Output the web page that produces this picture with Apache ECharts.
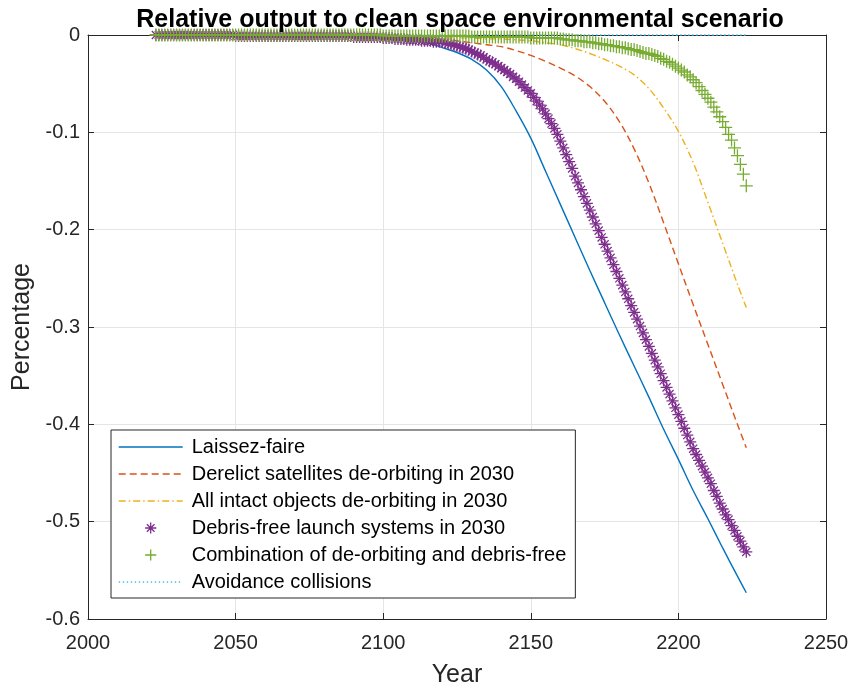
<!DOCTYPE html>
<html>
<head>
<meta charset="utf-8">
<script src="https://cdn.jsdelivr.net/npm/echarts@6/dist/echarts.min.js"></script>
<style>
  html, body { margin: 0; padding: 0; background: #ffffff; }
  #chart { width: 856px; height: 691px; }
</style>
</head>
<body>
<div id="chart"></div>
<script>
// ---- data -------------------------------------------------------------
const xTicks = [2000, 2050, 2100, 2150, 2200, 2250];
const yTicks = [-0.6, -0.5, -0.4, -0.3, -0.2, -0.1, 0];

const names = [
  'Laissez-faire',
  'Derelict satellites de-orbiting in 2030',
  'All intact objects de-orbiting in 2030',
  'Debris-free launch systems in 2030',
  'Combination of de-orbiting and debris-free',
  'Avoidance collisions'
];

// knot years for the plain line scenarios
const curveYears = [2023, 2050, 2075, 2100, 2105, 2110, 2115, 2120, 2125, 2130,
  2135, 2140, 2145, 2150, 2155, 2160, 2165, 2170, 2175, 2180, 2185, 2190, 2195,
  2200, 2205, 2210, 2215, 2220, 2223];

const laissezFaire = [0, 0, -0.001, -0.001, -0.002, -0.004, -0.008, -0.013, -0.018, -0.025,
  -0.036, -0.053, -0.078, -0.106, -0.140, -0.174, -0.208, -0.242, -0.275, -0.308, -0.340, -0.372, -0.405,
  -0.436, -0.468, -0.497, -0.527, -0.556, -0.573];

const derelictDeorbit = [0, 0, 0, -0.001, -0.002, -0.003, -0.004, -0.005, -0.006, -0.008,
  -0.010, -0.012, -0.016, -0.021, -0.027, -0.034, -0.042, -0.053, -0.068, -0.089, -0.117, -0.152, -0.193,
  -0.235, -0.277, -0.318, -0.359, -0.400, -0.424];

const intactDeorbit = [0, 0, 0, 0, -0.001, -0.001, -0.002, -0.002, -0.003, -0.003,
  -0.004, -0.004, -0.005, -0.006, -0.008, -0.010, -0.014, -0.019, -0.025, -0.032, -0.041, -0.055, -0.075,
  -0.099, -0.131, -0.172, -0.214, -0.256, -0.280];

const avoidanceYears = [2023, 2223];
const avoidance = [0, 0];

// yearly values, 2023 .. 2223, for the marker scenarios
const firstMarkerYear = 2023;

const debrisFree = [
  0, 0, 0, 0, 0, 0, 0,                                                        // 2023-2029
  0, 0, 0, 0, 0, 0, 0, 0, 0, 0,                                               // 2030s
  0, 0, 0, 0, 0, 0, 0, 0, 0, 0,                                               // 2040s
  -0.001, -0.001, -0.001, -0.001, -0.001, -0.001, -0.001, -0.001, -0.001, -0.001, // 2050s
  -0.001, -0.001, -0.001, -0.001, -0.001, -0.001, -0.001, -0.001, -0.001, -0.001, // 2060s
  -0.001, -0.001, -0.001, -0.001, -0.001, -0.001, -0.001, -0.001, -0.001, -0.001, // 2070s
  -0.001, -0.001, -0.001, -0.001, -0.001, -0.001, -0.001, -0.001, -0.001, -0.001, // 2080s
  -0.002, -0.002, -0.002, -0.002, -0.002, -0.002, -0.002, -0.002, -0.002, -0.002, // 2090s
  -0.003, -0.003, -0.003, -0.003, -0.004, -0.004, -0.004, -0.004, -0.005, -0.005, // 2100s
  -0.005, -0.005, -0.005, -0.006, -0.006, -0.006, -0.006, -0.007, -0.007, -0.007, // 2110s
  -0.007, -0.008, -0.009, -0.009, -0.010, -0.011, -0.012, -0.013, -0.014, -0.015, // 2120s
  -0.017, -0.018, -0.020, -0.021, -0.023, -0.025, -0.027, -0.028, -0.030, -0.032, // 2130s
  -0.034, -0.036, -0.038, -0.040, -0.043, -0.045, -0.048, -0.051, -0.054, -0.057, // 2140s
  -0.060, -0.064, -0.068, -0.072, -0.076, -0.081, -0.086, -0.091, -0.096, -0.102, // 2150s
  -0.109, -0.116, -0.123, -0.130, -0.137, -0.145, -0.152, -0.159, -0.166, -0.173, // 2160s
  -0.180, -0.187, -0.194, -0.201, -0.208, -0.215, -0.222, -0.229, -0.236, -0.243, // 2170s
  -0.250, -0.257, -0.264, -0.271, -0.278, -0.285, -0.292, -0.299, -0.306, -0.313, // 2180s
  -0.320, -0.327, -0.334, -0.341, -0.348, -0.355, -0.362, -0.369, -0.376, -0.383, // 2190s
  -0.390, -0.397, -0.404, -0.411, -0.418, -0.425, -0.431, -0.437, -0.443, -0.449, // 2200s
  -0.455, -0.461, -0.468, -0.474, -0.481, -0.487, -0.493, -0.498, -0.504, -0.509, // 2210s
  -0.515, -0.520, -0.526, -0.531                                              // 2220-2223
];

const combination = [
  0, 0, 0, 0, 0, 0, 0,                                                        // 2023-2029
  0, 0, 0, 0, 0, 0, 0, 0, 0, 0,                                               // 2030s
  0, 0, 0, 0, 0, 0, 0, 0, 0, 0,                                               // 2040s
  0, 0, 0, 0, 0, 0, 0, 0, 0, 0,                                               // 2050s
  0, 0, 0, 0, 0, 0, 0, 0, 0, 0,                                               // 2060s
  0, 0, 0, 0, 0, 0, 0, 0, 0, 0,                                               // 2070s
  0, 0, 0, 0, 0, 0, 0, 0, 0, 0,                                               // 2080s
  0, 0, 0, 0, 0, 0, 0, 0, 0, 0,                                               // 2090s
  -0.001, -0.001, -0.001, -0.001, -0.001, -0.001, -0.001, -0.001, -0.001, -0.001, // 2100s
  -0.001, -0.001, -0.001, -0.001, -0.001, -0.001, -0.001, -0.001, -0.001, -0.001, // 2110s
  -0.001, -0.001, -0.001, -0.001, -0.001, -0.001, -0.001, -0.001, -0.001, -0.001, // 2120s
  -0.002, -0.002, -0.002, -0.002, -0.002, -0.002, -0.002, -0.002, -0.002, -0.002, // 2130s
  -0.002, -0.002, -0.002, -0.002, -0.002, -0.002, -0.002, -0.002, -0.002, -0.002, // 2140s
  -0.003, -0.003, -0.003, -0.003, -0.003, -0.003, -0.003, -0.003, -0.003, -0.003, // 2150s
  -0.004, -0.004, -0.005, -0.005, -0.005, -0.006, -0.006, -0.006, -0.007, -0.007, // 2160s
  -0.007, -0.008, -0.008, -0.009, -0.009, -0.010, -0.010, -0.011, -0.011, -0.012, // 2170s
  -0.012, -0.013, -0.013, -0.014, -0.015, -0.015, -0.016, -0.017, -0.018, -0.019, // 2180s
  -0.019, -0.020, -0.021, -0.022, -0.024, -0.025, -0.027, -0.028, -0.030, -0.032, // 2190s
  -0.034, -0.036, -0.038, -0.041, -0.043, -0.046, -0.049, -0.053, -0.057, -0.061, // 2200s
  -0.065, -0.069, -0.074, -0.079, -0.084, -0.089, -0.095, -0.102, -0.108, -0.116, // 2210s
  -0.124, -0.133, -0.143, -0.155                                              // 2220-2223
];

// ---- helpers ----------------------------------------------------------
const FONT = '"Liberation Sans", Arial, Helvetica, sans-serif';
const AXIS_COLOR = '#262626';

function pairs(xs, ys) {
  return ys.map((y, i) => [xs[i], y]);
}
function yearly(ys) {
  return ys.map((y, i) => [firstMarkerYear + i, y]);
}

const PLUS = 'path://M5,0L5,10M0,5L10,5';
const ASTERISK = 'path://M5,0L5,10M0,5L10,5M1.6,1.6L8.4,8.4M1.6,8.4L8.4,1.6';

const COLORS = ['#0072BD', '#D95319', '#EDB120', '#7E2F8E', '#77AC30', '#4DBEEE'];

function lineSeries(name, data, color, type) {
  return {
    name, type: 'line', data,
    smooth: 0.35, showSymbol: false, symbol: 'circle', clip: false,
    lineStyle: { color, width: 1.4, type },
    itemStyle: { color },
    silent: true
  };
}
function markerSeries(name, data, color, symbol, size) {
  return {
    name, type: 'line', data,
    symbol, symbolSize: size, showSymbol: true, clip: false,
    lineStyle: { width: 0, color },
    itemStyle: { color, borderColor: color, borderWidth: 1.3 },
    silent: true
  };
}

const chart = echarts.init(document.getElementById('chart'), null, { renderer: 'canvas' });

const axisLabelStyle = { color: AXIS_COLOR, fontSize: 20, fontFamily: FONT };

chart.setOption({
  animation: false,
  backgroundColor: '#ffffff',
  title: {
    text: 'Relative output to clean space environmental scenario',
    left: 455, top: 3, textAlign: 'center',
    textStyle: { fontFamily: FONT, fontSize: 25, fontWeight: 'bold', color: '#000000' }
  },
  grid: { left: 88, right: 30, top: 35, bottom: 72, containLabel: false, outerBoundsMode: 'none' },
  xAxis: [
    {
      type: 'value', min: xTicks[0], max: xTicks[xTicks.length - 1], interval: 50,
      name: 'Year', nameLocation: 'middle', nameGap: 44,
      nameTextStyle: { color: AXIS_COLOR, fontSize: 25, fontFamily: FONT },
      axisLine: { show: true, onZero: false, lineStyle: { color: AXIS_COLOR, width: 1 } },
      axisTick: { show: true, inside: true, length: 6, lineStyle: { color: AXIS_COLOR } },
      axisLabel: Object.assign({ margin: 14, formatter: v => String(v) }, axisLabelStyle),
      splitLine: { show: true, lineStyle: { color: '#e5e5e5', width: 1 } }
    },
    {
      type: 'value', position: 'top', min: xTicks[0], max: xTicks[xTicks.length - 1], interval: 50,
      axisLine: { show: true, onZero: false, lineStyle: { color: AXIS_COLOR, width: 1 } },
      axisTick: { show: true, inside: true, length: 6, lineStyle: { color: AXIS_COLOR } },
      axisLabel: { show: false },
      splitLine: { show: false }
    }
  ],
  yAxis: [
    {
      type: 'value', min: yTicks[0], max: yTicks[yTicks.length - 1], interval: 0.1,
      name: 'Percentage', nameLocation: 'middle', nameGap: 52,
      nameTextStyle: { color: AXIS_COLOR, fontSize: 25, fontFamily: FONT },
      axisLine: { show: true, onZero: false, lineStyle: { color: AXIS_COLOR, width: 1 } },
      axisTick: { show: true, inside: true, length: 6, lineStyle: { color: AXIS_COLOR } },
      axisLabel: Object.assign({
        margin: 8,
        formatter: v => (Math.abs(v) < 1e-9 ? '0' : v.toFixed(1))
      }, axisLabelStyle),
      splitLine: { show: true, lineStyle: { color: '#e5e5e5', width: 1 } }
    },
    {
      type: 'value', position: 'right', min: yTicks[0], max: yTicks[yTicks.length - 1], interval: 0.1,
      axisLine: { show: true, onZero: false, lineStyle: { color: AXIS_COLOR, width: 1 } },
      axisTick: { show: true, inside: true, length: 6, lineStyle: { color: AXIS_COLOR } },
      axisLabel: { show: false },
      splitLine: { show: false }
    }
  ],
  legend: {
    orient: 'vertical', left: 111, top: 430,
    itemWidth: 64, itemHeight: 14, itemGap: 5,
    padding: [6, 9, 5, 7],
    borderColor: AXIS_COLOR, borderWidth: 1, backgroundColor: '#ffffff',
    selectedMode: false,
    textStyle: { fontFamily: FONT, fontSize: 20, color: '#000000', lineHeight: 22, padding: [0, 0, 0, 4] },
    data: [
      { name: names[0], itemStyle: { opacity: 0 }, lineStyle: { width: 1.4, opacity: 1 } },
      { name: names[1], itemStyle: { opacity: 0 }, lineStyle: { width: 1.4, opacity: 1 } },
      { name: names[2], itemStyle: { opacity: 0 }, lineStyle: { width: 1.4, opacity: 1 } },
      { name: names[3], itemStyle: { opacity: 1, borderWidth: 1.3 }, lineStyle: { width: 0 } },
      { name: names[4], itemStyle: { opacity: 1, borderWidth: 1.3 }, lineStyle: { width: 0 } },
      { name: names[5], itemStyle: { opacity: 0 }, lineStyle: { width: 1.4, opacity: 1 } }
    ]
  },
  series: [
    lineSeries(names[0], pairs(curveYears, laissezFaire), COLORS[0], 'solid'),
    lineSeries(names[1], pairs(curveYears, derelictDeorbit), COLORS[1], [7, 4]),
    lineSeries(names[2], pairs(curveYears, intactDeorbit), COLORS[2], [7, 3, 1.5, 3]),
    markerSeries(names[3], yearly(debrisFree), COLORS[3], ASTERISK, 12),
    markerSeries(names[4], yearly(combination), COLORS[4], PLUS, 13),
    lineSeries(names[5], pairs(avoidanceYears, avoidance), COLORS[5], [1.5, 2.5])
  ]
});
</script>
</body>
</html>
